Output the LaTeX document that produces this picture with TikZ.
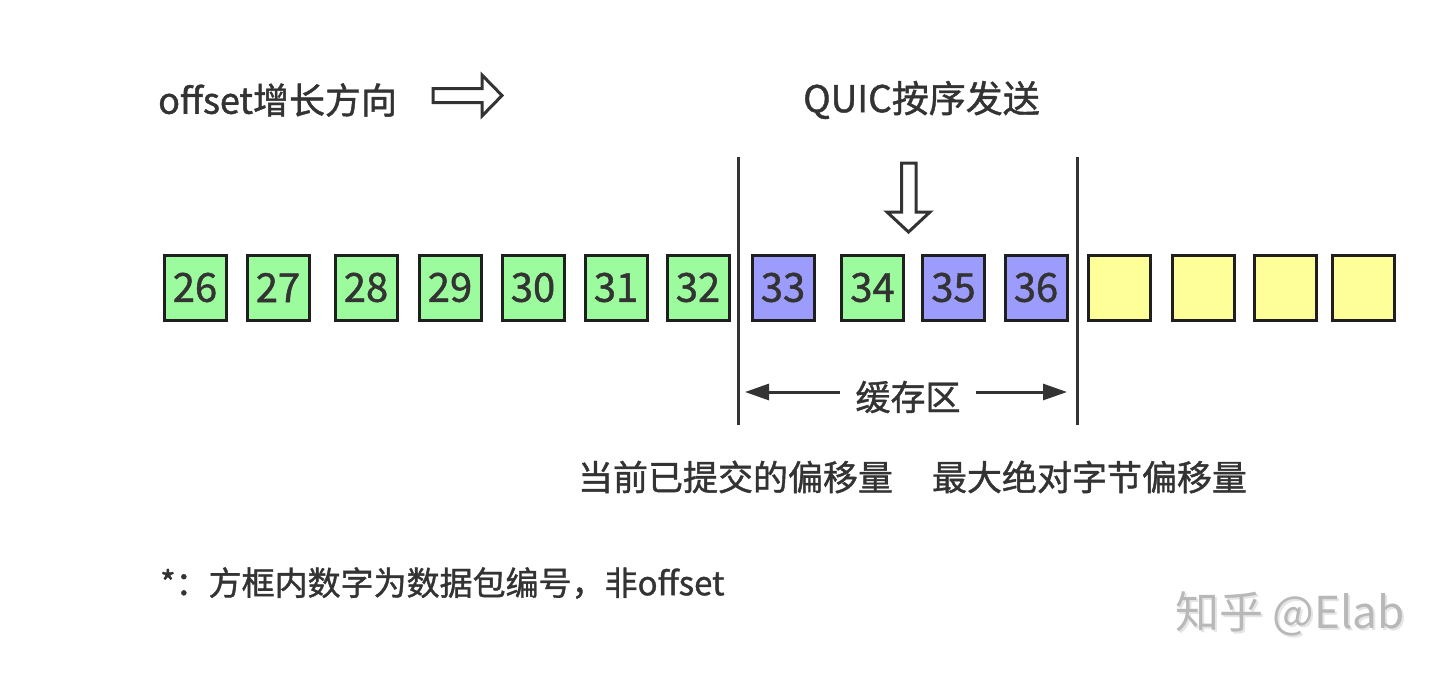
\documentclass[tikz,border=0pt]{standalone}
\usepackage{fontspec}
\newfontfamily\cjk[FakeBold=1.2]{Noto Sans CJK SC}
\newfontfamily\cjkw{Noto Sans CJK SC}
\usetikzlibrary{arrows.meta}
\definecolor{txt}{HTML}{333333}
\definecolor{gfill}{HTML}{9CFB9C}
\definecolor{bfill}{HTML}{9C9CFC}
\definecolor{yfill}{HTML}{FFFF99}
\tikzset{
  pkt/.style={draw=black!88, line width=3pt, minimum width=62pt, minimum height=65pt, inner sep=0pt,
    text=txt, font=\cjk\fontsize{40}{44}\selectfont},
  gpkt/.style={pkt, fill=gfill},
  bpkt/.style={pkt, fill=bfill},
  ypkt/.style={pkt, fill=yfill},
  lbl/.style={text=txt, inner sep=0pt, font=\cjk\fontsize{#1}{#1}\selectfont},
  lbl/.default=36,
  sepline/.style={draw=txt, line width=3pt},
  hollow/.style={draw=txt, line width=3pt, fill=white, line join=miter},
  bufarrow/.style={draw=txt, line width=3pt, -{Triangle[length=24pt,width=16pt]}}
}
\begin{document}
\begin{tikzpicture}[x=1pt,y=-1pt]
\useasboundingbox (0,0) rectangle (1440,675);
% packets
\node[gpkt] (p26) at (195,287.5) {26};
\node[gpkt] (p27) at (278,287.5) {27};
\node[gpkt] (p28) at (366,287.5) {28};
\node[gpkt] (p29) at (450,287.5) {29};
\node[gpkt] (p30) at (533,287.5) {30};
\node[gpkt] (p31) at (616,287.5) {31};
\node[gpkt] (p32) at (698,287.5) {32};
\node[bpkt] (p33) at (783,287.5) {33};
\node[gpkt] (p34) at (872.5,287.5) {34};
\node[bpkt] (p35) at (953.5,287.5) {35};
\node[bpkt] (p36) at (1036,287.5) {36};
\node[ypkt] (y1) at (1119,287.5) {};
\node[ypkt] (y2) at (1203.5,287.5) {};
\node[ypkt] (y3) at (1285,287.5) {};
\node[ypkt] (y4) at (1363.5,287.5) {};
% separator lines
\coordinate (l1t) at (738,157);
\coordinate (l1b) at (738,425);
\coordinate (l2t) at (1077,157);
\coordinate (l2b) at (1077,425);
\draw[sepline] (l1t) -- (l1b);
\draw[sepline] (l2t) -- (l2b);
% titles
\node[lbl=36, anchor=west] (dir) at (158,100) {offset增长方向};
\node[lbl=37] (quic) at (921.5,100) {QUIC按序发送};
% hollow right arrow
\draw[hollow] (433,88.5) -- (482,88.5) -- (482,75) -- (502,95.5) -- (482,116) -- (482,102.5) -- (433,102.5) -- cycle;
% hollow down arrow
\draw[hollow] (901.5,163) -- (916,163) -- (916,212) -- (930,212) -- (908.5,232) -- (887,212) -- (901.5,212) -- cycle;
% buffer label
\node[lbl=35] (buf) at (908,397) {缓存区};
\coordinate (bl) at (745,392);
\coordinate (br) at (1067,392);
\draw[bufarrow] (840,392) -- (bl);
\draw[bufarrow] (976,392) -- (br);
% bottom labels
\node[lbl=35] (commit) at (735.5,477) {当前已提交的偏移量};
\node[lbl=35] (maxoff) at (1089.5,477) {最大绝对字节偏移量};
% footnote
\node[lbl=33, anchor=west] (note) at (160,583) {*：方框内数字为数据包编号，非offset};
% watermark
\node[inner sep=0pt, text=black!10, font=\cjkw\fontsize{44}{44}\selectfont] (wm2) at (1292,616) {知乎 @Elab};
\node[inner sep=0pt, text=black!28, font=\cjkw\fontsize{44}{44}\selectfont] (wm) at (1290,614) {知乎 @Elab};
\end{tikzpicture}
\end{document}
